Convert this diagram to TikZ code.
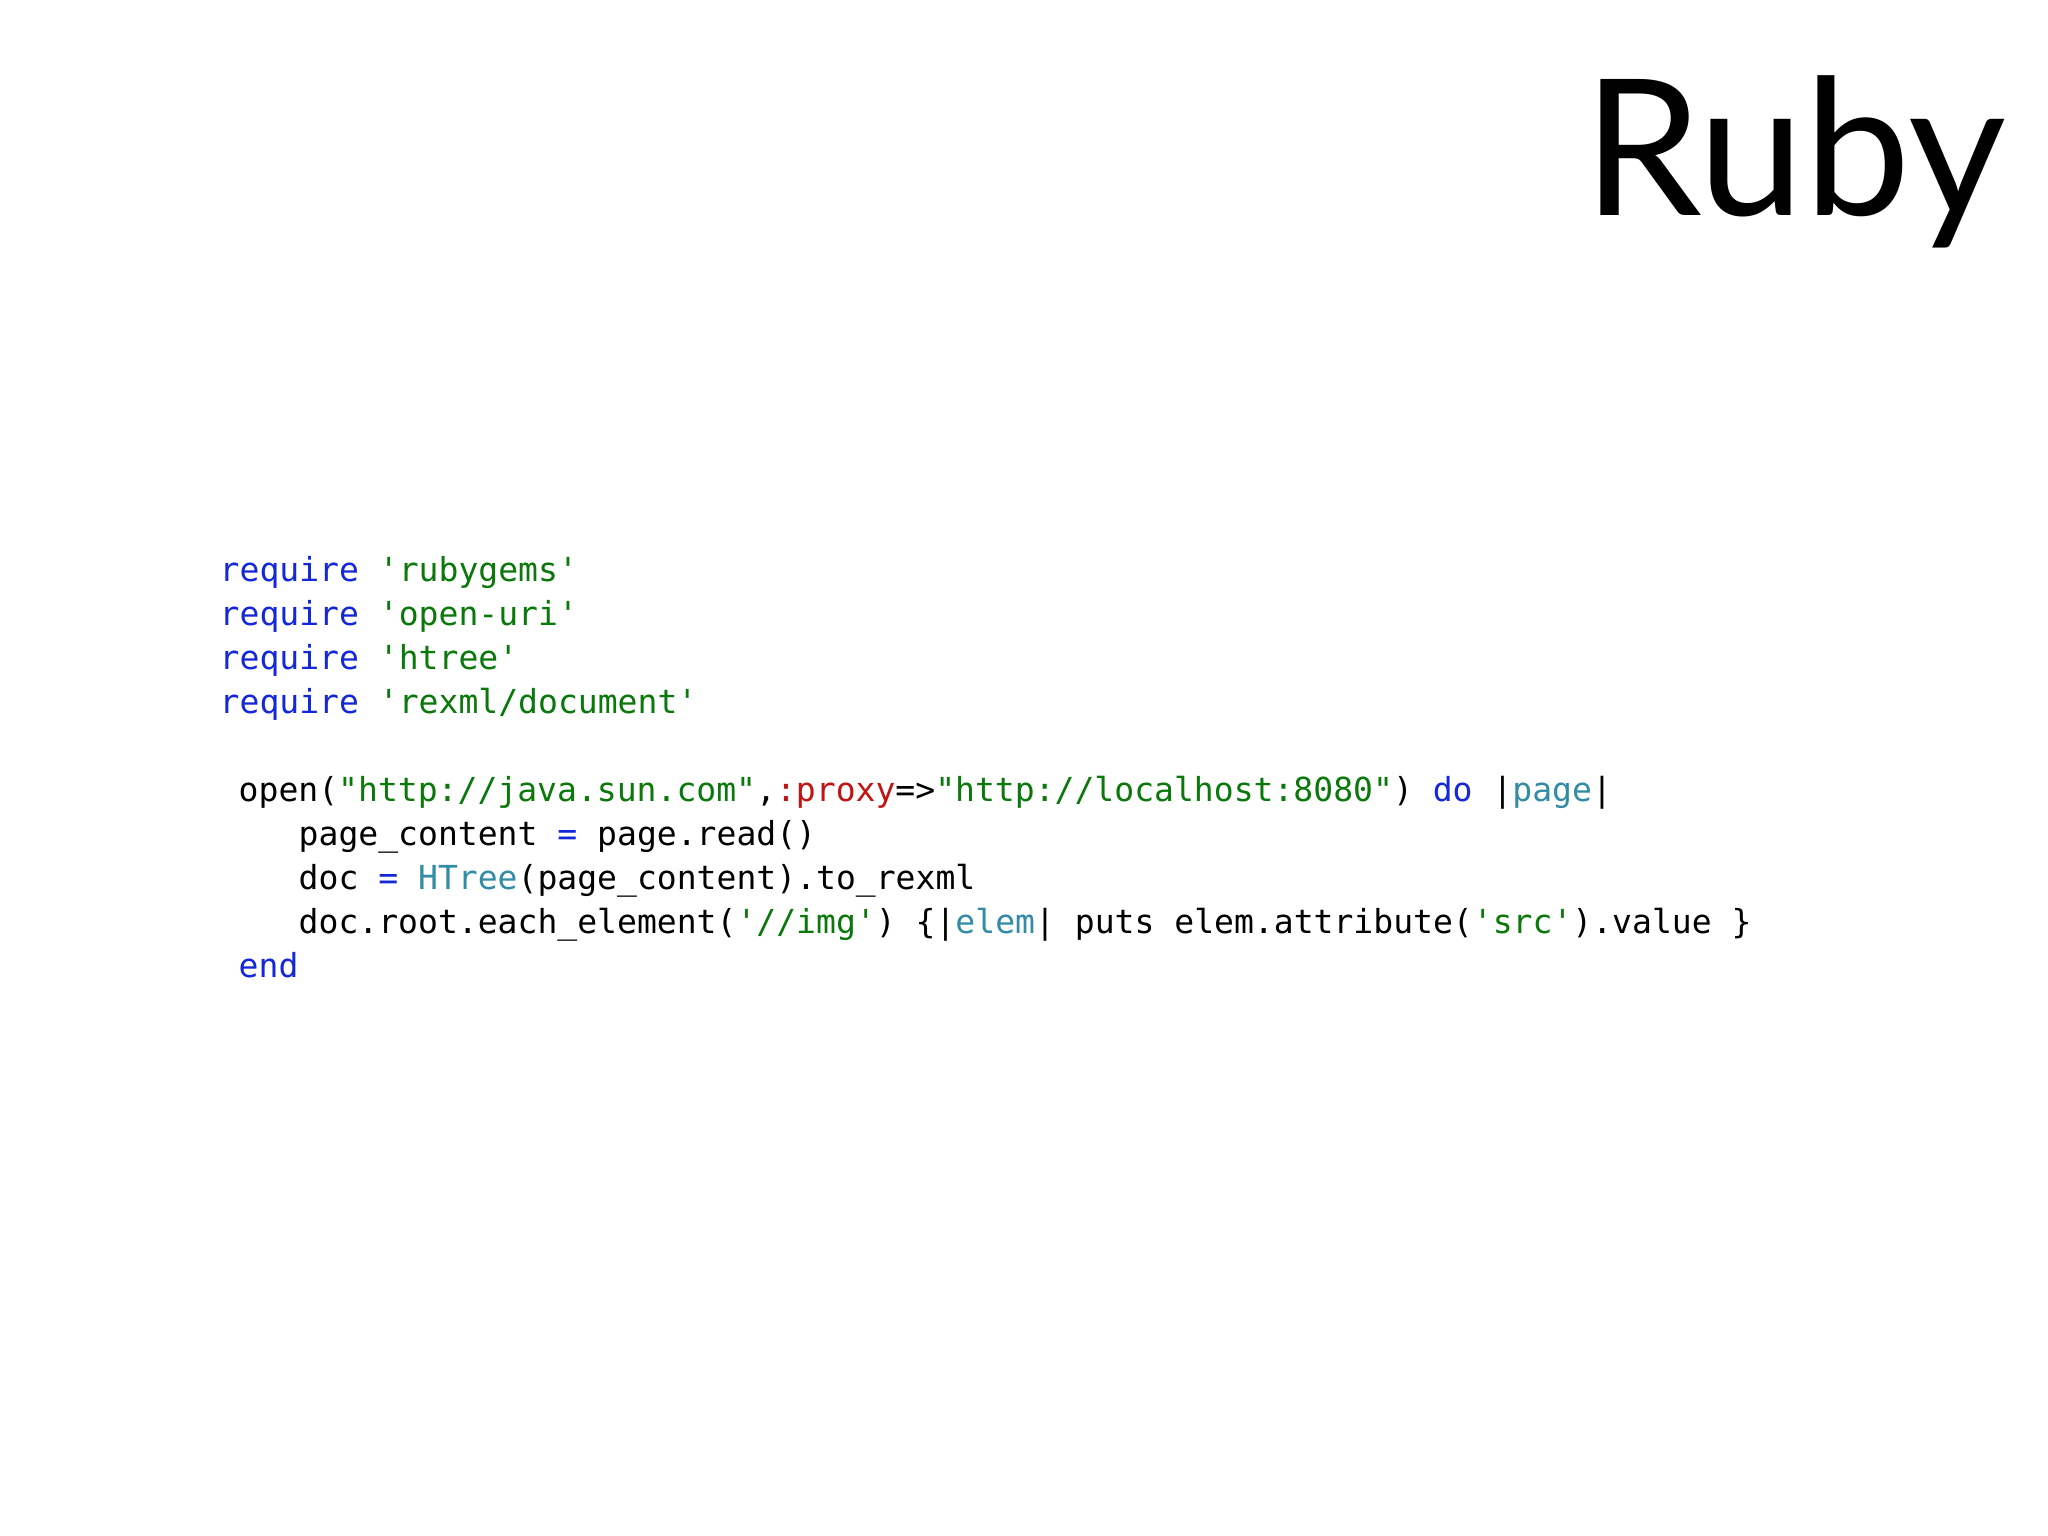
\documentclass[tikz,border=0pt]{standalone}
\usepackage{fontspec}
\setmainfont{Lato}
\setmonofont{DejaVu Sans Mono}
\definecolor{kw}{RGB}{20,40,215}
\definecolor{st}{RGB}{10,120,10}
\definecolor{sy}{RGB}{195,20,20}
\definecolor{va}{RGB}{50,140,165}
\newcommand{\K}[1]{\textcolor{kw}{#1}}
\newcommand{\Sx}[1]{\textcolor{st}{#1}}
\newcommand{\R}[1]{\textcolor{sy}{#1}}
\newcommand{\V}[1]{\textcolor{va}{#1}}
\newcommand{\us}{\char`\_}
\begin{document}
\begin{tikzpicture}[x=0.01cm,y=-0.01cm,
  code/.style={anchor=base west,inner sep=0pt,font=\ttfamily\fontsize{9.4pt}{11pt}\selectfont}]
\useasboundingbox (0,0) rectangle (2048,1536);
\fill[white] (0,0) rectangle (2048,1536);
\node[anchor=base east,inner sep=0pt,font=\fontsize{54pt}{60pt}\selectfont] (title) at (2007,215) {Ruby};
\node[code] (l1) at (219,581) {\K{require} \Sx{'rubygems'}};
\node[code] (l2) at (219,625) {\K{require} \Sx{'open-uri'}};
\node[code] (l3) at (219,669) {\K{require} \Sx{'htree'}};
\node[code] (l4) at (219,713) {\K{require} \Sx{'rexml/document'}};
\node[code] (l5) at (238,801) {open(\Sx{"http://java.sun.com"},\R{:proxy}=>\Sx{"http://localhost:8080"}) \K{do} |\V{page}|};
\node[code] (l6) at (298,845) {page\us content \K{=} page.read()};
\node[code] (l7) at (298,889) {doc \K{=} \V{HTree}(page\us content).to\us rexml};
\node[code] (l8) at (298,933) {doc.root.each\us element(\Sx{'//img'}) \{|\V{elem}| puts elem.attribute(\Sx{'src'}).value \}};
\node[code] (l9) at (238,977) {\K{end}};
\end{tikzpicture}
\end{document}
